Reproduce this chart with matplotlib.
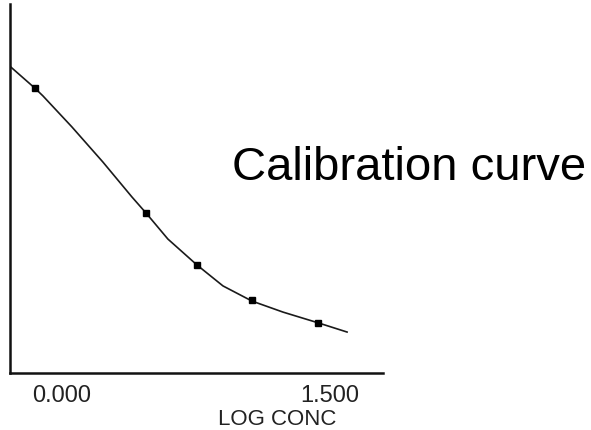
import matplotlib
matplotlib.use('Agg')
import matplotlib.pyplot as plt

plt.rcParams['font.family'] = ['Liberation Sans', 'DejaVu Sans']

# fitted curve (log conc vs response)
curve_x = [-0.285, -0.151, -0.106, 0.056, 0.229, 0.392, 0.470, 0.593, 0.755, 0.901, 1.063, 1.237, 1.433, 1.595]
curve_y = [0.829, 0.772, 0.751, 0.667, 0.572, 0.477, 0.434, 0.363, 0.293, 0.236, 0.195, 0.165, 0.136, 0.111]

# standards
std_x = [-0.151, 0.470, 0.755, 1.063, 1.433]
std_y = [0.772, 0.434, 0.293, 0.198, 0.136]

tick_pos = [0.0, 1.5]
tick_labels = ['0.000', '1.500']

fig = plt.figure(figsize=(5.91, 4.31), dpi=100)
ax = fig.add_axes([10 / 591, 1 - 374 / 431, 373 / 591, 369 / 431])

ax.plot(curve_x, curve_y, color='#1a1a1a', lw=1.2)
ax.plot(std_x, std_y, 's', color='black', ms=4, lw=0)

ax.set_xlim(-0.29, 1.796)
ax.set_ylim(0, 1)
for s in ['top', 'right']:
    ax.spines[s].set_visible(False)
for s in ['left', 'bottom']:
    ax.spines[s].set_linewidth(1.8)
    ax.spines[s].set_color('#111111')

ax.set_yticks([])
ax.set_xticks(tick_pos)
ax.set_xticklabels(tick_labels, fontsize=17, color='#222222')
ax.tick_params(axis='x', length=0, pad=8)

fig.text(277 / 591, 1 - 420 / 431, 'LOG CONC', ha='center', va='center', fontsize=16, color='#222222')
fig.text(232 / 591, 1 - 180 / 431, 'Calibration curve', ha='left', va='baseline', fontsize=34)

fig.savefig('out.png', dpi=100)
